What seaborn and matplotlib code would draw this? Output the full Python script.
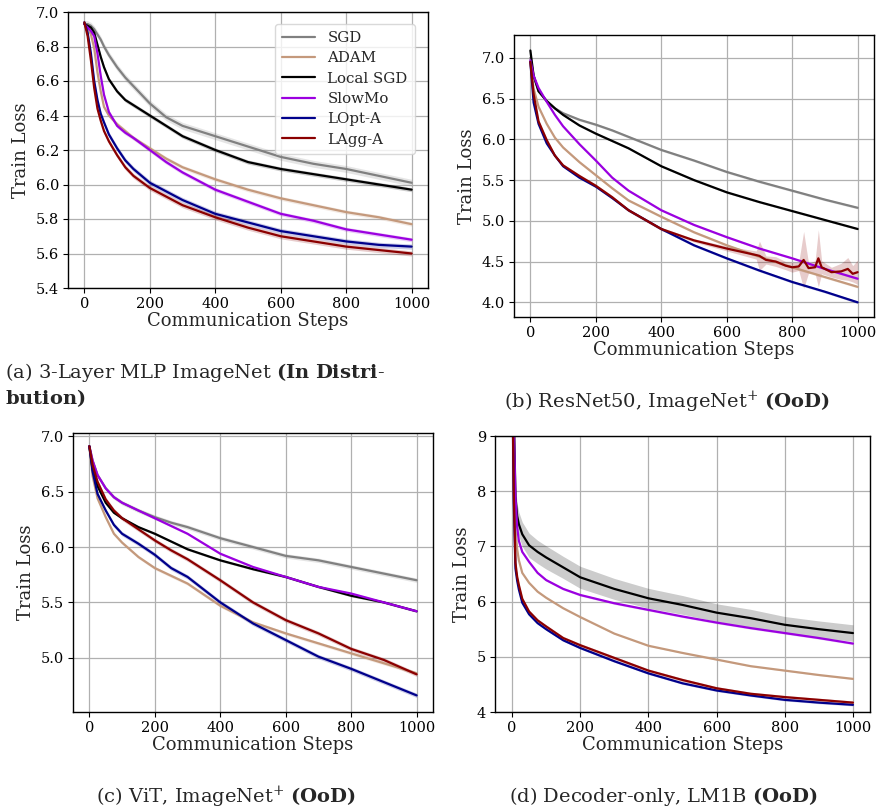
import matplotlib
matplotlib.use("Agg")
import matplotlib.pyplot as plt
import seaborn as sns
import numpy as np

# ---------------- data ----------------
LABELS = ["SGD", "ADAM", "Local SGD", "SlowMo", "LOpt-A", "LAgg-A"]
COLORS = ["#808080", "#c4997c", "#000000", "#9b00e0", "#00008b", "#8b0000"]

# (a) 3-layer MLP ImageNet
STEPS_A = [0, 10, 20, 30, 40, 50, 60, 75, 100, 125, 150, 200, 250, 300, 400, 500, 600, 700, 800, 900, 1000]
A_SGD = [6.93, 6.93, 6.92, 6.90, 6.87, 6.84, 6.80, 6.75, 6.68, 6.62, 6.57, 6.47, 6.39, 6.34, 6.28, 6.22, 6.16, 6.12, 6.09, 6.05, 6.01]
A_ADAM = [6.93, 6.91, 6.87, 6.79, 6.65, 6.54, 6.45, 6.40, 6.35, 6.31, 6.27, 6.21, 6.15, 6.10, 6.03, 5.97, 5.92, 5.88, 5.84, 5.81, 5.77]
A_LSGD = [6.93, 6.92, 6.91, 6.88, 6.81, 6.74, 6.68, 6.61, 6.54, 6.49, 6.46, 6.40, 6.34, 6.28, 6.20, 6.13, 6.09, 6.06, 6.03, 6.00, 5.97]
A_SLOW = [6.93, 6.91, 6.89, 6.86, 6.76, 6.63, 6.52, 6.42, 6.34, 6.30, 6.27, 6.20, 6.13, 6.07, 5.97, 5.90, 5.83, 5.79, 5.74, 5.71, 5.68]
A_LOPT = [6.94, 6.88, 6.76, 6.60, 6.49, 6.41, 6.36, 6.29, 6.21, 6.14, 6.09, 6.01, 5.96, 5.91, 5.83, 5.78, 5.73, 5.70, 5.67, 5.65, 5.64]
A_LAGG = [6.94, 6.86, 6.72, 6.56, 6.44, 6.37, 6.31, 6.25, 6.17, 6.10, 6.05, 5.98, 5.93, 5.88, 5.81, 5.75, 5.70, 5.67, 5.64, 5.62, 5.60]
A_BAND = [0.02, 0.012, 0.012, 0.012, 0.015, 0.015]

# (b) ResNet50, ImageNet+
STEPS_B = [0, 10, 25, 50, 75, 100, 150, 200, 250, 300, 400, 500, 600, 700, 800, 900, 1000]
B_SGD = [7.00, 6.78, 6.59, 6.47, 6.38, 6.32, 6.24, 6.18, 6.11, 6.03, 5.87, 5.74, 5.60, 5.48, 5.37, 5.26, 5.16]
B_ADAM = [6.95, 6.62, 6.40, 6.19, 6.02, 5.90, 5.72, 5.56, 5.40, 5.25, 5.05, 4.86, 4.70, 4.56, 4.43, 4.31, 4.19]
B_LSGD = [7.09, 6.78, 6.59, 6.47, 6.38, 6.30, 6.17, 6.07, 5.98, 5.89, 5.67, 5.50, 5.35, 5.23, 5.12, 5.01, 4.90]
B_SLOW = [6.97, 6.78, 6.63, 6.46, 6.30, 6.16, 5.94, 5.74, 5.53, 5.37, 5.13, 4.95, 4.80, 4.66, 4.54, 4.41, 4.29]
B_LOPT = [6.95, 6.45, 6.19, 5.95, 5.80, 5.67, 5.53, 5.42, 5.28, 5.13, 4.90, 4.70, 4.54, 4.39, 4.25, 4.13, 4.00]
B_BAND = [0.015, 0.015, 0.012, 0.012, 0.015]
B_LAGG_STEPS = [0, 10, 25, 50, 75, 100, 150, 200, 250, 300, 400, 500, 600, 690, 700, 720, 750, 780,
                800, 820, 835, 850, 870, 880, 890, 920, 950, 970, 985, 1000]
B_LAGG = [6.95, 6.55, 6.22, 5.99, 5.80, 5.68, 5.55, 5.43, 5.29, 5.13, 4.90, 4.76, 4.66, 4.58, 4.57, 4.52,
          4.50, 4.45, 4.43, 4.44, 4.52, 4.42, 4.43, 4.54, 4.43, 4.37, 4.38, 4.41, 4.35, 4.37]
B_LAGG_BAND = [0.02, 0.02, 0.02, 0.02, 0.02, 0.02, 0.02, 0.02, 0.02, 0.02, 0.02, 0.02, 0.03, 0.05, 0.18,
               0.05, 0.06, 0.05, 0.06, 0.05, 0.35, 0.06, 0.08, 0.35, 0.08, 0.06, 0.10, 0.14, 0.10, 0.15]

# (c) ViT, ImageNet+
STEPS_C = [0, 10, 25, 50, 75, 100, 150, 200, 250, 300, 400, 500, 600, 700, 800, 900, 1000]
C_SGD = [6.91, 6.78, 6.65, 6.53, 6.45, 6.40, 6.33, 6.27, 6.22, 6.18, 6.08, 6.00, 5.92, 5.88, 5.82, 5.76, 5.70]
C_ADAM = [6.91, 6.64, 6.44, 6.27, 6.12, 6.04, 5.91, 5.81, 5.74, 5.67, 5.47, 5.32, 5.22, 5.13, 5.04, 4.95, 4.86]
C_LSGD = [6.91, 6.70, 6.55, 6.40, 6.31, 6.26, 6.18, 6.12, 6.05, 5.98, 5.88, 5.80, 5.73, 5.64, 5.56, 5.50, 5.42]
C_SLOW = [6.91, 6.78, 6.65, 6.53, 6.45, 6.40, 6.33, 6.26, 6.19, 6.12, 5.94, 5.82, 5.73, 5.64, 5.58, 5.50, 5.42]
C_LOPT = [6.91, 6.68, 6.48, 6.33, 6.20, 6.12, 6.03, 5.93, 5.81, 5.73, 5.50, 5.31, 5.16, 5.01, 4.90, 4.78, 4.66]
C_LAGG = [6.91, 6.74, 6.59, 6.43, 6.33, 6.26, 6.16, 6.06, 5.97, 5.89, 5.70, 5.50, 5.34, 5.22, 5.08, 4.98, 4.85]
C_BAND = [0.02, 0.015, 0.01, 0.01, 0.02, 0.02]

# (d) Decoder-only, LM1B
STEPS_D = [0, 5, 10, 15, 20, 30, 50, 75, 100, 150, 200, 300, 400, 500, 600, 700, 800, 900, 1000]
D_ADAM = [10.5, 8.5, 7.3, 6.95, 6.75, 6.52, 6.34, 6.18, 6.07, 5.88, 5.72, 5.42, 5.20, 5.07, 4.95, 4.83, 4.75, 4.67, 4.60]
D_LSGD = [10.5, 9.5, 7.9, 7.55, 7.40, 7.22, 7.02, 6.90, 6.80, 6.62, 6.44, 6.23, 6.06, 5.94, 5.80, 5.70, 5.58, 5.50, 5.43]
D_SLOW = [10.5, 9.2, 7.9, 7.35, 7.10, 6.90, 6.72, 6.52, 6.39, 6.23, 6.12, 5.97, 5.85, 5.73, 5.62, 5.52, 5.43, 5.34, 5.24]
D_LOPT = [10.5, 7.8, 6.6, 6.38, 6.22, 5.98, 5.77, 5.61, 5.50, 5.30, 5.16, 4.92, 4.70, 4.52, 4.39, 4.30, 4.22, 4.17, 4.13]
D_LAGG = [10.5, 8.0, 6.7, 6.45, 6.30, 6.05, 5.82, 5.66, 5.55, 5.34, 5.21, 4.98, 4.75, 4.58, 4.43, 4.33, 4.27, 4.22, 4.17]
D_LSGD_BAND = [0.1, 0.15, 0.2, 0.22, 0.22, 0.22, 0.22, 0.21, 0.21, 0.2, 0.2, 0.19, 0.18, 0.17, 0.16, 0.16, 0.15, 0.15, 0.15]
D_BAND_OTHER = [0.01, 0.02, 0.02, 0.03]  # ADAM, SlowMo, LOpt-A, LAgg-A

CAPTION_A1 = r"(a) 3-Layer MLP ImageNet $\mathbf{(In\ Distri}$-"
CAPTION_A2 = r"$\mathbf{bution)}$"
CAPTION_B = r"(b) ResNet50, ImageNet$^{+}$ $\mathbf{(OoD)}$"
CAPTION_C = r"(c) ViT, ImageNet$^{+}$ $\mathbf{(OoD)}$"
CAPTION_D = r"(d) Decoder-only, LM1B $\mathbf{(OoD)}$"

# ---------------- style ----------------
sns.set_theme(style="ticks")
plt.rcParams["font.family"] = ["DejaVu Serif"]
plt.rcParams["mathtext.fontset"] = "dejavuserif"
plt.rcParams["axes.edgecolor"] = "black"
plt.rcParams["axes.linewidth"] = 1.0
plt.rcParams["xtick.color"] = "black"
plt.rcParams["ytick.color"] = "black"

fig = plt.figure(figsize=(8.79, 8.11), dpi=100)
W, H = 879.0, 811.0


def box(l, t, r, b):
    return [l / W, 1 - b / H, (r - l) / W, (b - t) / H]


axA = fig.add_axes(box(68, 12, 428, 288))
axB = fig.add_axes(box(514, 35, 874, 317))
axC = fig.add_axes(box(73, 433, 433, 712))
axD = fig.add_axes(box(495, 436, 870, 712))

LW = 1.6


def draw(ax, x, y, band, color, label=None):
    x = np.asarray(x, float)
    y = np.asarray(y, float)
    b = np.asarray(band, float) * np.ones_like(y)
    ax.fill_between(x, y - b, y + b, color=color, alpha=0.2, linewidth=0)
    sns.lineplot(x=x, y=y, color=color, linewidth=LW, ax=ax, label=label,
                 estimator=None, sort=False)


seriesA = [A_SGD, A_ADAM, A_LSGD, A_SLOW, A_LOPT, A_LAGG]
for s, c, l, b in zip(seriesA, COLORS, LABELS, A_BAND):
    draw(axA, STEPS_A, s, b, c, l)

seriesB = [B_SGD, B_ADAM, B_LSGD, B_SLOW, B_LOPT]
for s, c, b in zip(seriesB, COLORS[:5], B_BAND):
    draw(axB, STEPS_B, s, b, c)
draw(axB, B_LAGG_STEPS, B_LAGG, B_LAGG_BAND, COLORS[5])

seriesC = [C_SGD, C_ADAM, C_LSGD, C_SLOW, C_LOPT, C_LAGG]
for s, c, b in zip(seriesC, COLORS, C_BAND):
    draw(axC, STEPS_C, s, b, c)

draw(axD, STEPS_D, D_LSGD, D_LSGD_BAND, COLORS[2])
for s, c, b in zip([D_ADAM, D_SLOW, D_LOPT, D_LAGG], [COLORS[1], COLORS[3], COLORS[4], COLORS[5]], D_BAND_OTHER):
    draw(axD, STEPS_D, s, b, c)

for ax in (axA, axB, axC, axD):
    ax.set_xlim(-50, 1050)
    ax.set_xticks([0, 200, 400, 600, 800, 1000])
    ax.grid(True, color="#b0b0b0", linewidth=0.9)
    ax.set_axisbelow(True)
    ax.tick_params(labelsize=10.5, length=3.5, width=0.8, pad=3)
    ax.set_xlabel("Communication Steps", fontsize=13, labelpad=1)
    ax.set_ylabel("Train Loss", fontsize=13, labelpad=4)
    for sp in ax.spines.values():
        sp.set_visible(True)
        sp.set_color("black")

fmt = matplotlib.ticker.FormatStrFormatter("%.1f")
axA.set_ylim(5.4, 7.0)
axA.set_yticks(np.arange(5.4, 7.01, 0.2))
axA.yaxis.set_major_formatter(fmt)
axB.set_ylim(3.82, 7.28)
axB.set_yticks([4.0, 4.5, 5.0, 5.5, 6.0, 6.5, 7.0])
axB.yaxis.set_major_formatter(fmt)
axC.set_ylim(4.51, 7.03)
axC.set_yticks([5.0, 5.5, 6.0, 6.5, 7.0])
axC.yaxis.set_major_formatter(fmt)
axD.set_ylim(4, 9)
axD.set_yticks([4, 5, 6, 7, 8, 9])

for ax in (axB, axC, axD):
    leg = ax.get_legend()
    if leg is not None:
        leg.remove()

axA.legend(loc="upper right", fontsize=10.8, frameon=True, framealpha=0.8,
           edgecolor="#d0d0d0", handlelength=2.2, borderpad=0.5, labelspacing=0.42,
           bbox_to_anchor=(0.985, 0.985))

cap_fs = 14
fig.text(5 / W, 1 - 373 / H, CAPTION_A1, fontsize=cap_fs, ha="left", va="center")
fig.text(5 / W, 1 - 398 / H, CAPTION_A2, fontsize=cap_fs, ha="left", va="center")
fig.text(667 / W, 1 - 402 / H, CAPTION_B, fontsize=cap_fs, ha="center", va="center")
fig.text(226 / W, 1 - 797 / H, CAPTION_C, fontsize=cap_fs, ha="center", va="center")
fig.text(663 / W, 1 - 797 / H, CAPTION_D, fontsize=cap_fs, ha="center", va="center")

fig.savefig("out.png", dpi=100)
